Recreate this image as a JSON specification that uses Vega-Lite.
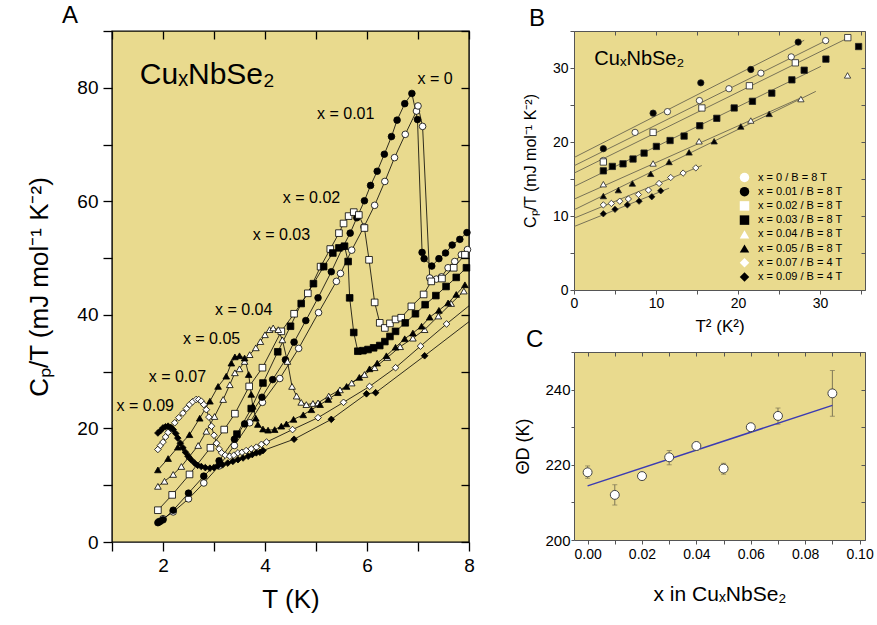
{
"$schema":"https://vega.github.io/schema/vega-lite/v6.json",
"padding":{"left":26,"top":3,"right":0,"bottom":0},
"config":{
 "font":"Liberation Sans",
 "view":{"stroke":"black","strokeWidth":1.4,"fill":"#E9DA8E"},
 "axis":{"labelFlush":false,"labelOverlap":false,"grid":false,"domain":false,"labelColor":"black","titleColor":"black","titleFontWeight":"normal","tickColor":"black"},
 "title":{"fontWeight":"normal","anchor":"start","frame":"group","color":"black"}
},
"datasets":{
"A":[
{"s":"0","T":1.92,"C":3.6},{"s":"0","T":2.0,"C":4.1},{"s":"0","T":2.2,"C":5.3},{"s":"0","T":2.5,"C":7.6},{"s":"0","T":2.8,"C":10.4},{"s":"0","T":3.1,"C":13.4},{"s":"0","T":3.4,"C":17.0},{"s":"0","T":3.7,"C":21.0},{"s":"0","T":3.95,"C":24.6},{"s":"0","T":4.29,"C":28.8},{"s":"0","T":4.66,"C":34.1},{"s":"0","T":5.05,"C":40.4},{"s":"0","T":5.4,"C":45.9},{"s":"0","T":5.48,"C":47.3},{"s":"0","T":5.7,"C":51.4},{"s":"0","T":5.94,"C":55.5},{"s":"0","T":6.15,"C":59.3},{"s":"0","T":6.35,"C":63.5},{"s":"0","T":6.54,"C":67.7},{"s":"0","T":6.75,"C":71.8},{"s":"0","T":6.97,"C":75.9},{"s":"0","T":7.0,"C":76.8},{"s":"0","T":7.09,"C":73.2},{"s":"0","T":7.23,"C":46.5},{"s":"0","T":7.36,"C":46.3},{"s":"0","T":7.46,"C":46.7},{"s":"0","T":7.59,"C":48.3},{"s":"0","T":7.72,"C":49.4},{"s":"0","T":7.85,"C":50.6},{"s":"0","T":7.97,"C":51.5},
{"s":"0.01","T":1.9,"C":3.4},{"s":"0.01","T":1.94,"C":3.6},{"s":"0.01","T":2.0,"C":3.9},{"s":"0.01","T":2.2,"C":5.6},{"s":"0.01","T":2.5,"C":8.6},{"s":"0.01","T":2.8,"C":11.6},{"s":"0.01","T":3.1,"C":14.3},{"s":"0.01","T":3.4,"C":18.1},{"s":"0.01","T":3.6,"C":20.8},{"s":"0.01","T":3.94,"C":25.5},{"s":"0.01","T":4.15,"C":28.6},{"s":"0.01","T":4.4,"C":32.1},{"s":"0.01","T":4.57,"C":35.2},{"s":"0.01","T":4.8,"C":39.0},{"s":"0.01","T":5.04,"C":43.0},{"s":"0.01","T":5.3,"C":47.6},{"s":"0.01","T":5.53,"C":52.0},{"s":"0.01","T":5.67,"C":54.4},{"s":"0.01","T":5.8,"C":57.1},{"s":"0.01","T":5.95,"C":60.1},{"s":"0.01","T":6.07,"C":62.8},{"s":"0.01","T":6.2,"C":65.3},{"s":"0.01","T":6.34,"C":68.3},{"s":"0.01","T":6.48,"C":71.4},{"s":"0.01","T":6.59,"C":74.3},{"s":"0.01","T":6.74,"C":77.2},{"s":"0.01","T":6.88,"C":79.0},{"s":"0.01","T":6.99,"C":74.4},{"s":"0.01","T":7.08,"C":51.0},{"s":"0.01","T":7.12,"C":49.9},{"s":"0.01","T":7.27,"C":48.6},{"s":"0.01","T":7.41,"C":49.9},{"s":"0.01","T":7.54,"C":50.9},{"s":"0.01","T":7.67,"C":52.3},{"s":"0.01","T":7.82,"C":53.3},{"s":"0.01","T":7.96,"C":54.5},
{"s":"0.02","T":1.9,"C":5.6},{"s":"0.02","T":2.18,"C":8.3},{"s":"0.02","T":2.52,"C":11.9},{"s":"0.02","T":2.93,"C":16.6},{"s":"0.02","T":3.2,"C":19.8},{"s":"0.02","T":3.41,"C":22.6},{"s":"0.02","T":3.69,"C":27.4},{"s":"0.02","T":3.95,"C":30.7},{"s":"0.02","T":4.32,"C":37.1},{"s":"0.02","T":4.57,"C":40.2},{"s":"0.02","T":4.84,"C":43.8},{"s":"0.02","T":5.09,"C":48.5},{"s":"0.02","T":5.28,"C":51.6},{"s":"0.02","T":5.45,"C":54.4},{"s":"0.02","T":5.54,"C":56.1},{"s":"0.02","T":5.64,"C":57.4},{"s":"0.02","T":5.74,"C":58.1},{"s":"0.02","T":5.84,"C":57.6},{"s":"0.02","T":5.95,"C":55.3},{"s":"0.02","T":6.04,"C":49.7},{"s":"0.02","T":6.15,"C":42.2},{"s":"0.02","T":6.25,"C":38.6},{"s":"0.02","T":6.35,"C":37.7},{"s":"0.02","T":6.45,"C":38.5},{"s":"0.02","T":6.56,"C":39.2},{"s":"0.02","T":6.67,"C":39.5},{"s":"0.02","T":6.87,"C":41.5},{"s":"0.02","T":7.11,"C":43.6},{"s":"0.02","T":7.26,"C":45.9},{"s":"0.02","T":7.47,"C":46.4},{"s":"0.02","T":7.7,"C":48.3},{"s":"0.02","T":7.92,"C":50.6},
{"s":"0.03","T":3.45,"C":19.0},{"s":"0.03","T":3.73,"C":23.5},{"s":"0.03","T":3.96,"C":28.0},{"s":"0.03","T":4.25,"C":33.5},{"s":"0.03","T":4.5,"C":38.0},{"s":"0.03","T":4.71,"C":42.0},{"s":"0.03","T":4.95,"C":45.5},{"s":"0.03","T":5.15,"C":48.5},{"s":"0.03","T":5.33,"C":50.9},{"s":"0.03","T":5.45,"C":51.8},{"s":"0.03","T":5.56,"C":52.1},{"s":"0.03","T":5.63,"C":49.4},{"s":"0.03","T":5.66,"C":43.0},{"s":"0.03","T":5.74,"C":36.9},{"s":"0.03","T":5.82,"C":33.6},{"s":"0.03","T":5.92,"C":33.7},{"s":"0.03","T":6.02,"C":33.9},{"s":"0.03","T":6.13,"C":34.2},{"s":"0.03","T":6.25,"C":34.6},{"s":"0.03","T":6.35,"C":35.3},{"s":"0.03","T":6.45,"C":36.2},{"s":"0.03","T":6.56,"C":37.1},{"s":"0.03","T":6.75,"C":38.6},{"s":"0.03","T":6.95,"C":40.2},{"s":"0.03","T":7.14,"C":41.8},{"s":"0.03","T":7.35,"C":43.4},{"s":"0.03","T":7.55,"C":45.0},{"s":"0.03","T":7.75,"C":46.6},{"s":"0.03","T":7.95,"C":48.3},
{"s":"0.04","T":1.9,"C":9.8},{"s":"0.04","T":2.03,"C":10.7},{"s":"0.04","T":2.2,"C":11.9},{"s":"0.04","T":2.36,"C":13.3},{"s":"0.04","T":2.52,"C":15.1},{"s":"0.04","T":2.69,"C":17.0},{"s":"0.04","T":2.85,"C":19.5},{"s":"0.04","T":3.01,"C":22.1},{"s":"0.04","T":3.18,"C":25.1},{"s":"0.04","T":3.31,"C":27.7},{"s":"0.04","T":3.41,"C":29.8},{"s":"0.04","T":3.5,"C":30.5},{"s":"0.04","T":3.6,"C":31.8},{"s":"0.04","T":3.7,"C":33.0},{"s":"0.04","T":3.82,"C":34.2},{"s":"0.04","T":3.91,"C":35.3},{"s":"0.04","T":4.0,"C":36.5},{"s":"0.04","T":4.09,"C":37.4},{"s":"0.04","T":4.16,"C":37.7},{"s":"0.04","T":4.26,"C":37.4},{"s":"0.04","T":4.34,"C":35.6},{"s":"0.04","T":4.44,"C":31.8},{"s":"0.04","T":4.53,"C":27.4},{"s":"0.04","T":4.62,"C":25.7},{"s":"0.04","T":4.71,"C":24.6},{"s":"0.04","T":4.81,"C":24.2},{"s":"0.04","T":4.94,"C":24.4},{"s":"0.04","T":5.04,"C":24.5},{"s":"0.04","T":5.25,"C":25.7},{"s":"0.04","T":5.47,"C":26.8},{"s":"0.04","T":5.7,"C":28.0},{"s":"0.04","T":5.95,"C":29.5},{"s":"0.04","T":6.15,"C":30.7},{"s":"0.04","T":6.4,"C":32.5},{"s":"0.04","T":6.65,"C":34.4},{"s":"0.04","T":6.9,"C":35.9},{"s":"0.04","T":7.13,"C":37.4},{"s":"0.04","T":7.4,"C":39.8},{"s":"0.04","T":7.65,"C":42.0},{"s":"0.04","T":7.9,"C":44.2},
{"s":"0.05","T":1.9,"C":12.7},{"s":"0.05","T":2.1,"C":14.7},{"s":"0.05","T":2.29,"C":16.7},{"s":"0.05","T":2.52,"C":18.9},{"s":"0.05","T":2.72,"C":21.8},{"s":"0.05","T":2.92,"C":24.8},{"s":"0.05","T":3.08,"C":27.4},{"s":"0.05","T":3.24,"C":29.2},{"s":"0.05","T":3.34,"C":31.5},{"s":"0.05","T":3.41,"C":32.6},{"s":"0.05","T":3.5,"C":32.8},{"s":"0.05","T":3.6,"C":32.4},{"s":"0.05","T":3.68,"C":29.5},{"s":"0.05","T":3.73,"C":26.0},{"s":"0.05","T":3.76,"C":23.9},{"s":"0.05","T":3.82,"C":21.8},{"s":"0.05","T":3.86,"C":20.7},{"s":"0.05","T":3.96,"C":19.9},{"s":"0.05","T":4.06,"C":19.7},{"s":"0.05","T":4.19,"C":19.8},{"s":"0.05","T":4.32,"C":20.4},{"s":"0.05","T":4.42,"C":20.8},{"s":"0.05","T":4.56,"C":21.6},{"s":"0.05","T":4.75,"C":22.4},{"s":"0.05","T":4.91,"C":23.3},{"s":"0.05","T":5.08,"C":24.2},{"s":"0.05","T":5.24,"C":25.1},{"s":"0.05","T":5.43,"C":26.3},{"s":"0.05","T":5.6,"C":27.4},{"s":"0.05","T":5.85,"C":29.0},{"s":"0.05","T":6.05,"C":30.5},{"s":"0.05","T":6.2,"C":31.5},{"s":"0.05","T":6.38,"C":32.8},{"s":"0.05","T":6.56,"C":34.3},{"s":"0.05","T":6.74,"C":35.8},{"s":"0.05","T":6.9,"C":36.8},{"s":"0.05","T":7.07,"C":38.0},{"s":"0.05","T":7.23,"C":39.6},{"s":"0.05","T":7.41,"C":40.8},{"s":"0.05","T":7.59,"C":42.1},{"s":"0.05","T":7.75,"C":43.6},{"s":"0.05","T":7.92,"C":45.3},
{"s":"0.07","T":1.9,"C":16.3},{"s":"0.07","T":1.95,"C":17.0},{"s":"0.07","T":2.0,"C":17.6},{"s":"0.07","T":2.05,"C":18.5},{"s":"0.07","T":2.1,"C":19.3},{"s":"0.07","T":2.15,"C":20.0},{"s":"0.07","T":2.23,"C":21.0},{"s":"0.07","T":2.31,"C":21.9},{"s":"0.07","T":2.39,"C":22.7},{"s":"0.07","T":2.46,"C":23.5},{"s":"0.07","T":2.52,"C":24.2},{"s":"0.07","T":2.58,"C":24.7},{"s":"0.07","T":2.65,"C":25.1},{"s":"0.07","T":2.7,"C":25.1},{"s":"0.07","T":2.75,"C":24.8},{"s":"0.07","T":2.8,"C":24.2},{"s":"0.07","T":2.85,"C":23.3},{"s":"0.07","T":2.9,"C":22.0},{"s":"0.07","T":2.95,"C":20.4},{"s":"0.07","T":3.0,"C":18.8},{"s":"0.07","T":3.05,"C":17.4},{"s":"0.07","T":3.1,"C":16.4},{"s":"0.07","T":3.15,"C":15.7},{"s":"0.07","T":3.22,"C":15.3},{"s":"0.07","T":3.31,"C":15.1},{"s":"0.07","T":3.39,"C":15.3},{"s":"0.07","T":3.47,"C":15.7},{"s":"0.07","T":3.55,"C":15.8},{"s":"0.07","T":3.63,"C":16.1},{"s":"0.07","T":3.73,"C":16.4},{"s":"0.07","T":3.83,"C":16.7},{"s":"0.07","T":3.93,"C":17.2},{"s":"0.07","T":4.03,"C":17.6},{"s":"0.07","T":4.54,"C":19.8},{"s":"0.07","T":5.04,"C":21.9},{"s":"0.07","T":5.54,"C":24.6},{"s":"0.07","T":6.05,"C":27.4},{"s":"0.07","T":6.56,"C":30.7},{"s":"0.07","T":7.05,"C":34.5},{"s":"0.07","T":7.56,"C":38.4},
{"s":"0.09","T":1.9,"C":19.2},{"s":"0.09","T":1.95,"C":19.6},{"s":"0.09","T":2.0,"C":20.1},{"s":"0.09","T":2.05,"C":20.3},{"s":"0.09","T":2.1,"C":20.4},{"s":"0.09","T":2.15,"C":20.2},{"s":"0.09","T":2.2,"C":19.8},{"s":"0.09","T":2.25,"C":19.1},{"s":"0.09","T":2.29,"C":18.3},{"s":"0.09","T":2.34,"C":17.4},{"s":"0.09","T":2.39,"C":16.6},{"s":"0.09","T":2.44,"C":15.8},{"s":"0.09","T":2.49,"C":15.1},{"s":"0.09","T":2.55,"C":14.5},{"s":"0.09","T":2.62,"C":13.9},{"s":"0.09","T":2.68,"C":13.5},{"s":"0.09","T":2.75,"C":13.3},{"s":"0.09","T":2.83,"C":13.1},{"s":"0.09","T":2.92,"C":13.0},{"s":"0.09","T":3.0,"C":13.1},{"s":"0.09","T":3.08,"C":13.4},{"s":"0.09","T":3.17,"C":13.6},{"s":"0.09","T":3.27,"C":13.9},{"s":"0.09","T":3.37,"C":14.2},{"s":"0.09","T":3.47,"C":14.5},{"s":"0.09","T":3.57,"C":14.8},{"s":"0.09","T":3.67,"C":15.1},{"s":"0.09","T":3.75,"C":15.4},{"s":"0.09","T":3.83,"C":15.7},{"s":"0.09","T":3.9,"C":15.8},{"s":"0.09","T":3.96,"C":16.1},{"s":"0.09","T":4.57,"C":18.1},{"s":"0.09","T":5.3,"C":21.6},{"s":"0.09","T":5.99,"C":26.1},{"s":"0.09","T":6.17,"C":26.3},{"s":"0.09","T":7.13,"C":32.8}
],
"Aext":[
{"s":"0.07","T":7.56,"C":38.4},{"s":"0.07","T":8.0,"C":41.6},
{"s":"0.09","T":7.13,"C":32.8},{"s":"0.09","T":8.0,"C":38.8}
],
"Alab":[
{"T":6.99,"C":81.5,"t":"x = 0"},
{"T":5.02,"C":75.4,"t":"x = 0.01"},
{"T":4.35,"C":60.5,"t":"x = 0.02"},
{"T":3.76,"C":54.0,"t":"x = 0.03"},
{"T":3.02,"C":40.8,"t":"x = 0.04"},
{"T":2.39,"C":35.8,"t":"x = 0.05"},
{"T":1.72,"C":29.0,"t":"x = 0.07"},
{"T":1.09,"C":24.0,"t":"x = 0.09"}
],
"B":[
{"s":"x = 0 / B = 8 T","T2":3.58,"C":17.5},{"s":"x = 0 / B = 8 T","T2":7.45,"C":21.3},{"s":"x = 0 / B = 8 T","T2":11.4,"C":24.1},{"s":"x = 0 / B = 8 T","T2":15.3,"C":25.6},{"s":"x = 0 / B = 8 T","T2":18.9,"C":27.2},{"s":"x = 0 / B = 8 T","T2":22.8,"C":29.3},{"s":"x = 0 / B = 8 T","T2":26.5,"C":31.5},{"s":"x = 0 / B = 8 T","T2":30.7,"C":33.7},
{"s":"x = 0.01 / B = 8 T","T2":3.58,"C":19.1},{"s":"x = 0.01 / B = 8 T","T2":9.65,"C":23.9},{"s":"x = 0.01 / B = 8 T","T2":15.47,"C":28.0},{"s":"x = 0.01 / B = 8 T","T2":21.57,"C":29.8},{"s":"x = 0.01 / B = 8 T","T2":27.35,"C":33.5},
{"s":"x = 0.02 / B = 8 T","T2":3.58,"C":17.3},{"s":"x = 0.02 / B = 8 T","T2":9.65,"C":21.3},{"s":"x = 0.02 / B = 8 T","T2":15.6,"C":24.6},{"s":"x = 0.02 / B = 8 T","T2":21.4,"C":27.6},{"s":"x = 0.02 / B = 8 T","T2":27.0,"C":30.7},{"s":"x = 0.02 / B = 8 T","T2":33.4,"C":34.1},
{"s":"x = 0.03 / B = 8 T","T2":3.58,"C":16.1},{"s":"x = 0.03 / B = 8 T","T2":4.68,"C":16.7},{"s":"x = 0.03 / B = 8 T","T2":5.98,"C":17.05},{"s":"x = 0.03 / B = 8 T","T2":7.2,"C":17.7},{"s":"x = 0.03 / B = 8 T","T2":8.55,"C":18.5},{"s":"x = 0.03 / B = 8 T","T2":10.05,"C":19.4},{"s":"x = 0.03 / B = 8 T","T2":11.72,"C":20.2},{"s":"x = 0.03 / B = 8 T","T2":13.43,"C":20.8},{"s":"x = 0.03 / B = 8 T","T2":15.34,"C":22.2},{"s":"x = 0.03 / B = 8 T","T2":17.42,"C":23.2},{"s":"x = 0.03 / B = 8 T","T2":19.54,"C":24.6},{"s":"x = 0.03 / B = 8 T","T2":21.77,"C":25.5},{"s":"x = 0.03 / B = 8 T","T2":24.13,"C":26.6},{"s":"x = 0.03 / B = 8 T","T2":26.58,"C":28.4},{"s":"x = 0.03 / B = 8 T","T2":28.08,"C":29.7},{"s":"x = 0.03 / B = 8 T","T2":30.73,"C":31.2},{"s":"x = 0.03 / B = 8 T","T2":34.72,"C":32.9},
{"s":"x = 0.04 / B = 8 T","T2":3.58,"C":14.3},{"s":"x = 0.04 / B = 8 T","T2":9.65,"C":17.1},{"s":"x = 0.04 / B = 8 T","T2":15.26,"C":20.1},{"s":"x = 0.04 / B = 8 T","T2":21.57,"C":22.9},{"s":"x = 0.04 / B = 8 T","T2":27.68,"C":25.8},{"s":"x = 0.04 / B = 8 T","T2":33.37,"C":29.0},
{"s":"x = 0.05 / B = 8 T","T2":3.58,"C":12.7},{"s":"x = 0.05 / B = 8 T","T2":5.41,"C":13.5},{"s":"x = 0.05 / B = 8 T","T2":7.12,"C":14.4},{"s":"x = 0.05 / B = 8 T","T2":9.36,"C":15.7},{"s":"x = 0.05 / B = 8 T","T2":11.6,"C":17.3},{"s":"x = 0.05 / B = 8 T","T2":14.04,"C":18.6},{"s":"x = 0.05 / B = 8 T","T2":17.1,"C":20.1},{"s":"x = 0.05 / B = 8 T","T2":20.35,"C":22.1},{"s":"x = 0.05 / B = 8 T","T2":23.81,"C":23.8},
{"s":"x = 0.07 / B = 4 T","T2":3.58,"C":11.5},{"s":"x = 0.07 / B = 4 T","T2":4.56,"C":11.7},{"s":"x = 0.07 / B = 4 T","T2":5.58,"C":12.0},{"s":"x = 0.07 / B = 4 T","T2":6.63,"C":12.3},{"s":"x = 0.07 / B = 4 T","T2":7.86,"C":12.9},{"s":"x = 0.07 / B = 4 T","T2":9.08,"C":13.5},{"s":"x = 0.07 / B = 4 T","T2":10.38,"C":14.4},{"s":"x = 0.07 / B = 4 T","T2":11.8,"C":15.2},{"s":"x = 0.07 / B = 4 T","T2":13.31,"C":15.8},{"s":"x = 0.07 / B = 4 T","T2":14.86,"C":16.5},
{"s":"x = 0.09 / B = 4 T","T2":3.58,"C":10.3},{"s":"x = 0.09 / B = 4 T","T2":5.0,"C":10.9},{"s":"x = 0.09 / B = 4 T","T2":6.51,"C":11.5},{"s":"x = 0.09 / B = 4 T","T2":7.94,"C":12.0},{"s":"x = 0.09 / B = 4 T","T2":9.49,"C":12.6},{"s":"x = 0.09 / B = 4 T","T2":10.58,"C":13.4}
],
"Bfit":[
{"s":"L1","T2":0,"C":17.9},{"s":"L1","T2":28.08,"C":33.74},
{"s":"L2","T2":0,"C":16.78},{"s":"L2","T2":30.81,"C":33.74},
{"s":"L3","T2":0,"C":15.79},{"s":"L3","T2":33.66,"C":34.19},
{"s":"L4","T2":0,"C":13.98},{"s":"L4","T2":30.12,"C":30.22},
{"s":"L5","T2":0,"C":12.27},{"s":"L5","T2":27.8,"C":26.03},
{"s":"L6","T2":0,"C":10.83},{"s":"L6","T2":29.5,"C":26.84},
{"s":"L7","T2":0,"C":9.7},{"s":"L7","T2":15.59,"C":16.82},
{"s":"L8","T2":0,"C":8.57},{"s":"L8","T2":11.6,"C":13.76}
],
"C":[
{"x":0.00,"t":218.0,"lo":216.4,"hi":219.7},
{"x":0.01,"t":212.0,"lo":209.3,"hi":214.7},
{"x":0.02,"t":217.0,"lo":216.0,"hi":218.0},
{"x":0.03,"t":222.0,"lo":220.0,"hi":223.8},
{"x":0.04,"t":225.0,"lo":224.0,"hi":226.0},
{"x":0.05,"t":219.0,"lo":217.5,"hi":220.4},
{"x":0.06,"t":230.0,"lo":229.0,"hi":231.0},
{"x":0.07,"t":233.0,"lo":230.8,"hi":235.1},
{"x":0.09,"t":239.0,"lo":232.9,"hi":245.1}
],
"Cfit":[{"x":0.0,"t":214.4},{"x":0.09,"t":235.8}]
},
"spacing":39,
"resolve":{"scale":{"shape":"independent","fill":"independent"},"legend":{"shape":"independent","fill":"independent"}},
"hconcat":[
{
 "width":357,"height":511,
 "title":{"text":"A","fontSize":24,"dx":-50,"offset":-6},
 "view":{"stroke":"black","strokeWidth":1.4,"fill":"#E9DA8E"},
 "layer":[
  {"data":{"name":"A"},"mark":{"type":"line","color":"black","strokeWidth":0.8},
   "encoding":{
    "x":{"field":"T","type":"quantitative","scale":{"domain":[1,8],"nice":false,"zero":false},
      "axis":{"orient":"bottom","values":[1,2,3,4,5,6,7,8],"labelExpr":"datum.value % 2 == 0 ? datum.label : ''","labelFontSize":19,"tickSize":9,"tickWidth":1.3,"labelPadding":5,"title":"T (K)","titleFontSize":26,"titlePadding":11}},
    "y":{"field":"C","type":"quantitative","scale":{"domain":[0,90],"nice":false,"zero":false},
      "axis":{"orient":"left","values":[0,10,20,30,40,50,60,70,80,90],"labelExpr":"datum.value % 20 == 0 ? datum.label : ''","labelFontSize":19,"tickSize":9,"tickWidth":1.3,"labelPadding":5,"title":"Cₚ/T (mJ mol⁻¹ K⁻²)","titleFontSize":26,"titlePadding":24}},
    "detail":{"field":"s","type":"nominal"}}},
  {"data":{"name":"Aext"},"mark":{"type":"line","color":"black","strokeWidth":0.8},
   "encoding":{"x":{"field":"T","type":"quantitative","axis":null},"y":{"field":"C","type":"quantitative","axis":null},"detail":{"field":"s","type":"nominal"}}},
  {"data":{"name":"A"},"mark":{"type":"point","filled":true,"size":44,"stroke":"black","strokeWidth":0.8,"opacity":1},
   "encoding":{"x":{"field":"T","type":"quantitative","axis":null},"y":{"field":"C","type":"quantitative","axis":null},
    "shape":{"field":"s","type":"nominal","scale":{"domain":["0","0.01","0.02","0.03","0.04","0.05","0.07","0.09"],"range":["circle","circle","square","square","triangle-up","triangle-up","diamond","diamond"]},"legend":null},
    "fill":{"field":"s","type":"nominal","scale":{"domain":["0","0.01","0.02","0.03","0.04","0.05","0.07","0.09"],"range":["white","black","white","black","white","black","white","black"]},"legend":null}}},
  {"data":{"name":"Alab"},"mark":{"type":"text","align":"left","baseline":"middle","fontSize":16,"color":"black"},
   "encoding":{"x":{"field":"T","type":"quantitative","axis":null},"y":{"field":"C","type":"quantitative","axis":null},"text":{"field":"t"}}},
  {"data":{"values":[{"T":1.545,"C":80.6,"t":"CuₓNbSe₂"}]},"mark":{"type":"text","align":"left","baseline":"alphabetic","fontSize":30,"color":"black"},
   "encoding":{"x":{"field":"T","type":"quantitative","axis":null},"y":{"field":"C","type":"quantitative","axis":null},"text":{"field":"t"}}},
  {"data":{"values":[{"T":1,"C":0}]},"mark":{"type":"point","opacity":0},
   "encoding":{"x":{"field":"T","type":"quantitative","axis":{"orient":"top","values":[1,2,3,4,5,6,7,8],"labels":false,"tickSize":-8,"tickWidth":1.3,"title":null}},
    "y":{"field":"C","type":"quantitative","axis":{"orient":"right","values":[0,10,20,30,40,50,60,70,80,90],"labels":false,"tickSize":-8,"tickWidth":1.3,"title":null}}}}
 ],
 "resolve":{"axis":{"x":"independent","y":"independent"}}
},
{
 "spacing":-8,
 "resolve":{"scale":{"shape":"independent","fill":"independent"},"legend":{"shape":"independent","fill":"independent"}},
 "vconcat":[
 {
  "width":291,"height":259,
  "title":{"text":"B","fontSize":24,"dx":-45,"offset":-7},
  "view":{"stroke":"#555","strokeWidth":1,"fill":"#E9DA8E"},
  "layer":[
   {"data":{"name":"Bfit"},"mark":{"type":"line","color":"#6b6650","strokeWidth":0.9},
    "encoding":{
     "x":{"field":"T2","type":"quantitative","scale":{"domain":[0,35.5],"nice":false,"zero":false},
       "axis":{"orient":"bottom","values":[0,5,10,15,20,25,30,35],"labelExpr":"datum.value % 10 == 0 ? datum.label : ''","labelFontSize":14,"tickSize":4,"tickColor":"#555","labelPadding":2,"title":"T² (K²)","titleFontSize":17,"titlePadding":8}},
     "y":{"field":"C","type":"quantitative","scale":{"domain":[0,35],"nice":false,"zero":false},
       "axis":{"orient":"left","values":[0,5,10,15,20,25,30,35],"labelExpr":"datum.value % 10 == 0 ? datum.label : ''","labelFontSize":14,"tickSize":4,"tickColor":"#555","labelPadding":2,"title":"Cₚ/T (mJ mol⁻¹ K⁻²)","titleFontSize":16,"titlePadding":14}},
     "detail":{"field":"s","type":"nominal"}}},
   {"data":{"name":"B"},"mark":{"type":"point","filled":true,"size":40,"stroke":"#222","strokeWidth":0.8,"opacity":1},
    "encoding":{"x":{"field":"T2","type":"quantitative","axis":null},"y":{"field":"C","type":"quantitative","axis":null},
     "shape":{"field":"s","type":"nominal","scale":{"domain":["x = 0 / B = 8 T","x = 0.01 / B = 8 T","x = 0.02 / B = 8 T","x = 0.03 / B = 8 T","x = 0.04 / B = 8 T","x = 0.05 / B = 8 T","x = 0.07 / B = 4 T","x = 0.09 / B = 4 T"],"range":["circle","circle","square","square","triangle-up","triangle-up","diamond","diamond"]},
       "legend":{"title":null,"orient":"none","legendX":165,"legendY":141,"labelFontSize":11,"symbolSize":90,"rowPadding":1.2,"symbolStrokeColor":"#222","symbolStrokeWidth":0.8,"labelLimit":200,"padding":0,"labelOffset":8,"labelColor":"black","encode":{"symbols":{"update":{"stroke":{"value":"#222"},"strokeWidth":{"value":0.9}}}}}},
     "fill":{"field":"s","type":"nominal","scale":{"domain":["x = 0 / B = 8 T","x = 0.01 / B = 8 T","x = 0.02 / B = 8 T","x = 0.03 / B = 8 T","x = 0.04 / B = 8 T","x = 0.05 / B = 8 T","x = 0.07 / B = 4 T","x = 0.09 / B = 4 T"],"range":["white","black","white","black","white","black","white","black"]},
       "legend":{"title":null,"orient":"none","legendX":165,"legendY":141,"labelFontSize":11,"symbolSize":90,"rowPadding":1.2,"symbolStrokeColor":"#222","symbolStrokeWidth":0.8,"labelLimit":200,"padding":0,"labelOffset":8,"labelColor":"black","encode":{"symbols":{"update":{"stroke":{"value":"#222"},"strokeWidth":{"value":0.9}}}}}}}},
   {"data":{"values":[{"T2":2.48,"C":30.4,"t":"CuₓNbSe₂"}]},"mark":{"type":"text","align":"left","baseline":"alphabetic","fontSize":20,"color":"black"},
    "encoding":{"x":{"field":"T2","type":"quantitative","axis":null},"y":{"field":"C","type":"quantitative","axis":null},"text":{"field":"t"}}},
   {"data":{"values":[{"T2":0,"C":0}]},"mark":{"type":"point","opacity":0},
    "encoding":{"x":{"field":"T2","type":"quantitative","axis":{"orient":"top","values":[0,5,10,15,20,25,30,35],"labels":false,"tickSize":-4,"tickColor":"#555","title":null}},
     "y":{"field":"C","type":"quantitative","axis":{"orient":"right","values":[0,5,10,15,20,25,30,35],"labels":false,"tickSize":-4,"tickColor":"#555","title":null}}}}
  ],
  "resolve":{"axis":{"x":"independent","y":"independent"}}
 },
 {
  "width":291,"height":188,
  "title":{"text":"C","fontSize":24,"dx":-48,"offset":-7},
  "view":{"stroke":"#555","strokeWidth":1,"fill":"#E9DA8E"},
  "layer":[
   {"data":{"name":"C"},"mark":{"type":"errorbar","ticks":true,"color":"#7d7656","thickness":1},
    "encoding":{"x":{"field":"x","type":"quantitative","scale":{"domain":[-0.005,0.102],"nice":false,"zero":false},"axis":null},
     "y":{"field":"lo","type":"quantitative","scale":{"domain":[200,250],"nice":false,"zero":false},"axis":null},"y2":{"field":"hi"}}},
   {"data":{"name":"Cfit"},"mark":{"type":"line","color":"#3b3bb3","strokeWidth":1.5},
    "encoding":{"x":{"field":"x","type":"quantitative","axis":null},"y":{"field":"t","type":"quantitative","axis":null}}},
   {"data":{"name":"C"},"mark":{"type":"point","filled":true,"fill":"white","stroke":"#444","strokeWidth":1,"size":80,"opacity":1},
    "encoding":{
     "x":{"field":"x","type":"quantitative","axis":{"orient":"bottom","values":[0,0.01,0.02,0.03,0.04,0.05,0.06,0.07,0.08,0.09,0.1],"labelExpr":"round(datum.value*100) % 2 == 0 ? format(datum.value, '.2f') : ''","labelFontSize":14,"tickSize":4,"tickColor":"#555","labelPadding":3,"title":"x in CuₓNbSe₂","titleFontSize":21,"titlePadding":22}},
     "y":{"field":"t","type":"quantitative","axis":{"orient":"left","values":[200,210,220,230,240,250],"labelExpr":"datum.value % 20 == 0 ? datum.label : ''","labelFontSize":15,"tickSize":3,"tickColor":"#555","labelPadding":1,"title":"ΘD (K)","titleFontSize":18,"titlePadding":12}}}},
   {"data":{"values":[{"x":0,"t":200}]},"mark":{"type":"point","opacity":0},
    "encoding":{"x":{"field":"x","type":"quantitative","axis":{"orient":"top","values":[0,0.01,0.02,0.03,0.04,0.05,0.06,0.07,0.08,0.09,0.1],"labels":false,"tickSize":-4,"tickColor":"#555","title":null}},
     "y":{"field":"t","type":"quantitative","axis":{"orient":"right","values":[200,210,220,230,240,250],"labels":false,"tickSize":-4,"tickColor":"#555","title":null}}}}
  ],
  "resolve":{"axis":{"x":"independent","y":"independent"}}
 }
 ]
}
]
}
